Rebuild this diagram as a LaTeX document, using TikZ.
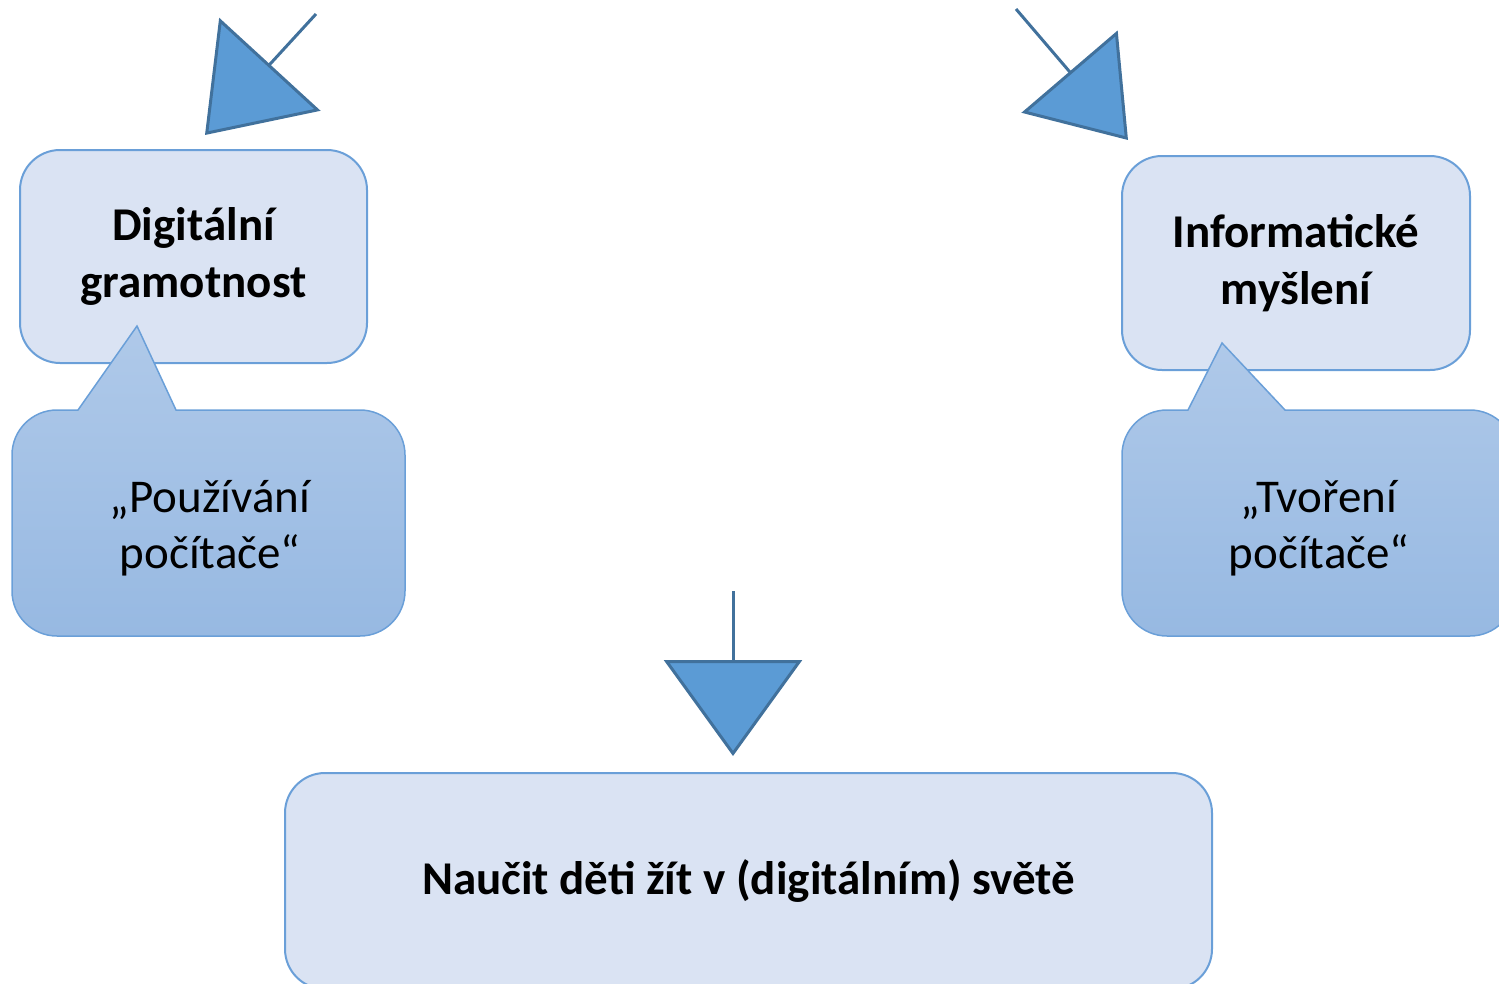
\documentclass[tikz,border=0pt]{standalone}
\usepackage{fontspec}
\setmainfont{Carlito}
\usetikzlibrary{arrows.meta}

\definecolor{boxfill}{HTML}{DAE3F3}
\definecolor{boxline}{HTML}{6A9FD8}
\definecolor{bubbletop}{HTML}{AFC9E9}
\definecolor{bubblebot}{HTML}{97B9E2}
\definecolor{arrowfill}{HTML}{5B9BD5}
\definecolor{arrowline}{HTML}{41719C}

\begin{document}
\begin{tikzpicture}[x = 1pt, y = -1pt,
    box/.style = {draw = boxline, line width = 2pt, fill = boxfill,
      rounded corners = 40pt, align = center,
      font = \bfseries\fontsize{47}{57}\selectfont},
    say/.style = {align = center, font = \fontsize{47}{56}\selectfont},
    bubble/.style = {draw = boxline, line width = 1.5pt,
      top color = bubbletop, bottom color = bubblebot},
    bigarrow/.style 2 args = {draw = arrowline, line width = 3pt,
      -{Triangle[length = #1, width = #2, fill = arrowfill]}}]
  \useasboundingbox (0,0) rectangle (1499,983);
  \clip (0,0) rectangle (1499,983);

  \node[box, minimum width = 347pt, minimum height = 213pt] (dig) at (193.5,256.5) {Digitální\\gramotnost};
  \node[box, minimum width = 348pt, minimum height = 214pt] (inf) at (1296,263) {Informatické\\myšlení};
  \node[box, minimum width = 927pt, minimum height = 216pt] (goal) at (748.5,881) {Naučit děti žít v (digitálním) světě};

  % speech bubbles, pointing up into the boxes
  \path[bubble] (78,410) -- (137,326) -- (176,410) -- (360,410)
    arc[start angle = -90, end angle = 0, radius = 45] -- (405,591)
    arc[start angle = 0, end angle = 90, radius = 45] -- (57,636)
    arc[start angle = 90, end angle = 180, radius = 45] -- (12,455)
    arc[start angle = 180, end angle = 270, radius = 45] -- cycle;
  \path[bubble] (1188,410) -- (1222,343) -- (1285,410) -- (1470,410)
    arc[start angle = -90, end angle = 0, radius = 45] -- (1515,591)
    arc[start angle = 0, end angle = 90, radius = 45] -- (1167,636)
    arc[start angle = 90, end angle = 180, radius = 45] -- (1122,455)
    arc[start angle = 180, end angle = 270, radius = 45] -- cycle;

  \node[say] (use) at (210,528) {„Používání\\počítače“};
  \node[say] (make) at (1319,528) {„Tvoření\\počítače“};

  \coordinate (from1) at (316,14);
  \coordinate (to1) at (205,135);
  \coordinate (from2) at (1016,9);
  \coordinate (to2) at (1128,140);
  \coordinate (from3) at (733,591);
  \coordinate (to3) at (733,756);
  \draw[bigarrow = {96pt}{137pt}] (from1) -- (to1);
  \draw[bigarrow = {90pt}{126pt}] (from2) -- (to2);
  \draw[bigarrow = {96pt}{138pt}] (from3) -- (to3);
\end{tikzpicture}
\end{document}
